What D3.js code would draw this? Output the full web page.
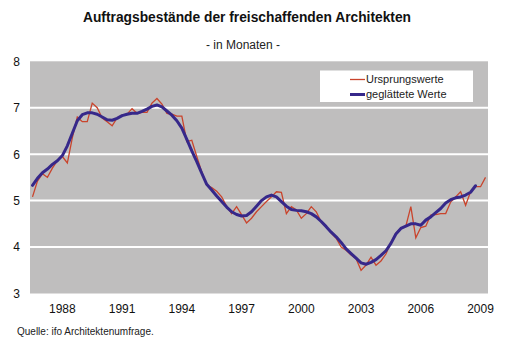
<!DOCTYPE html>
<html><head><meta charset="utf-8">
<script src="https://cdn.jsdelivr.net/npm/d3@7/dist/d3.min.js"></script>
<style>
html,body{margin:0;padding:0;background:#fff;}
svg{display:block;font-family:"Liberation Sans",Arial,Helvetica,sans-serif;}
</style></head>
<body>
<svg id="c" width="507" height="348"></svg>
<script>
// Quarterly data, 1986 Q3 .. 2009 Q2
const quarters = d3.range(92).map(i => {
  const q = i + 2; // 1986 Q3 -> offset
  return (1986 + Math.floor(q / 4)) + "Q" + (q % 4 + 1);
});
const ursprungswerte = [
  5.08,5.42,5.58,5.50,5.70,5.86,5.95,5.81,6.35,6.80,
  6.70,6.70,7.10,7.00,6.78,6.70,6.61,6.78,6.84,6.86,
  6.98,6.88,6.90,6.90,7.10,7.20,7.08,6.88,6.86,6.82,
  6.82,6.27,6.30,5.95,5.62,5.33,5.28,5.20,5.08,4.88,
  4.72,4.87,4.70,4.52,4.62,4.76,4.87,4.98,5.08,5.19,
  5.18,4.72,4.87,4.80,4.62,4.72,4.87,4.76,4.54,4.44,
  4.30,4.19,4.00,3.93,3.83,3.75,3.50,3.61,3.78,3.61,
  3.70,3.85,4.10,4.30,4.40,4.45,4.87,4.20,4.42,4.45,
  4.69,4.70,4.72,4.72,4.97,5.08,5.19,4.90,5.19,5.30,
  5.30,5.50
];
const geglaettet = [
  5.33,5.48,5.60,5.68,5.78,5.86,5.97,6.18,6.45,6.72,
  6.85,6.89,6.89,6.86,6.80,6.74,6.73,6.77,6.83,6.86,
  6.88,6.88,6.92,6.97,7.03,7.06,7.02,6.93,6.84,6.72,
  6.56,6.32,6.07,5.84,5.59,5.35,5.23,5.10,4.98,4.86,
  4.76,4.70,4.67,4.68,4.76,4.88,5.00,5.08,5.12,5.08,
  4.98,4.88,4.81,4.79,4.78,4.76,4.72,4.65,4.55,4.44,
  4.32,4.22,4.10,3.96,3.86,3.76,3.66,3.63,3.67,3.73,
  3.82,3.92,4.08,4.28,4.40,4.45,4.50,4.50,4.47,4.58,
  4.65,4.74,4.83,4.95,5.02,5.06,5.08,5.12,5.18,5.32,
  null,null
];
const xTickLabels = ["1988","1991","1994","1997","2000","2003","2006","2009"];
const xTickQuarters = ["1988Q1","1991Q1","1994Q1","1997Q1","2000Q1","2003Q1","2006Q1","2009Q1"];
const yTicks = [3,4,5,6,7,8];
const seriesNames = ["Ursprungswerte","geglättete Werte"];
const colors = ["#c9442c","#36288a"];

const svg = d3.select("#c");
const L = 30, R = 488, T = 61.3, B = 293.5;

const x = d3.scaleBand().domain(quarters).range([L, R]).paddingInner(0).paddingOuter(0);
const xc = q => x(q) + x.bandwidth() / 2;
const y = d3.scaleLinear().domain([3, 8]).range([B, T]);

// plot background
svg.append("rect").attr("x", L).attr("y", T).attr("width", R - L).attr("height", B - T).attr("fill", "#bfbebe");

// gridlines
svg.append("g").selectAll("line").data(yTicks.filter(v => v > 3 && v < 8)).join("line")
  .attr("x1", L).attr("x2", R).attr("y1", d => y(d)).attr("y2", d => y(d))
  .attr("stroke", "#ffffff").attr("stroke-width", 2);

// y axis
const ya = svg.append("g").attr("transform", `translate(${L},0)`)
  .call(d3.axisLeft(y).tickValues(yTicks).tickSize(0).tickPadding(10).tickFormat(d3.format("d")));
ya.select(".domain").remove();
ya.selectAll("text").attr("font-size", 12).attr("fill", "#111").style("font-family", "inherit");

// x axis
const labelMap = new Map(xTickQuarters.map((q, i) => [q, xTickLabels[i]]));
const xa = svg.append("g").attr("transform", `translate(0,${B})`)
  .call(d3.axisBottom(x).tickValues(xTickQuarters).tickSize(0).tickPadding(11).tickFormat(q => labelMap.get(q)));
xa.select(".domain").remove();
xa.selectAll("text").attr("font-size", 12).attr("fill", "#111").style("font-family", "inherit");

// lines
const line = d3.line().defined(d => d.v != null).x(d => xc(d.q)).y(d => y(d.v));
svg.append("path")
  .datum(quarters.map((q, i) => ({q, v: ursprungswerte[i]})))
  .attr("d", line).attr("fill", "none").attr("stroke", colors[0]).attr("stroke-width", 1.3)
  .attr("stroke-linejoin", "miter");
svg.append("path")
  .datum(quarters.map((q, i) => ({q, v: geglaettet[i]})))
  .attr("d", line).attr("fill", "none").attr("stroke", colors[1]).attr("stroke-width", 3)
  .attr("stroke-linejoin", "round").attr("stroke-linecap", "round");

// legend
const lg = svg.append("g");
lg.append("rect").attr("x", 320).attr("y", 70.5).attr("width", 153).attr("height", 31.5).attr("fill", "#fff");
seriesNames.forEach((n, i) => {
  const yy = 79.5 + i * 15;
  lg.append("line").attr("x1", 350).attr("x2", 365).attr("y1", yy).attr("y2", yy)
    .attr("stroke", colors[i]).attr("stroke-width", i === 0 ? 1.3 : 3);
  lg.append("text").attr("x", 366).attr("y", yy).attr("dy", "0.35em")
    .attr("font-size", 11).attr("fill", "#222").text(n);
});

// titles
svg.append("text").attr("x", 247).attr("y", 22).attr("text-anchor", "middle")
  .attr("font-size", 14).attr("font-weight", "bold").attr("fill", "#111")
  .attr("textLength", 328).attr("lengthAdjust", "spacingAndGlyphs")
  .text("Auftragsbestände der freischaffenden Architekten");
svg.append("text").attr("x", 243).attr("y", 48.5).attr("text-anchor", "middle")
  .attr("font-size", 12).attr("fill", "#222").text("- in Monaten -");
svg.append("text").attr("x", 17).attr("y", 335).attr("font-size", 10).attr("fill", "#222")
  .text("Quelle: ifo Architektenumfrage.");
</script>
</body></html>
